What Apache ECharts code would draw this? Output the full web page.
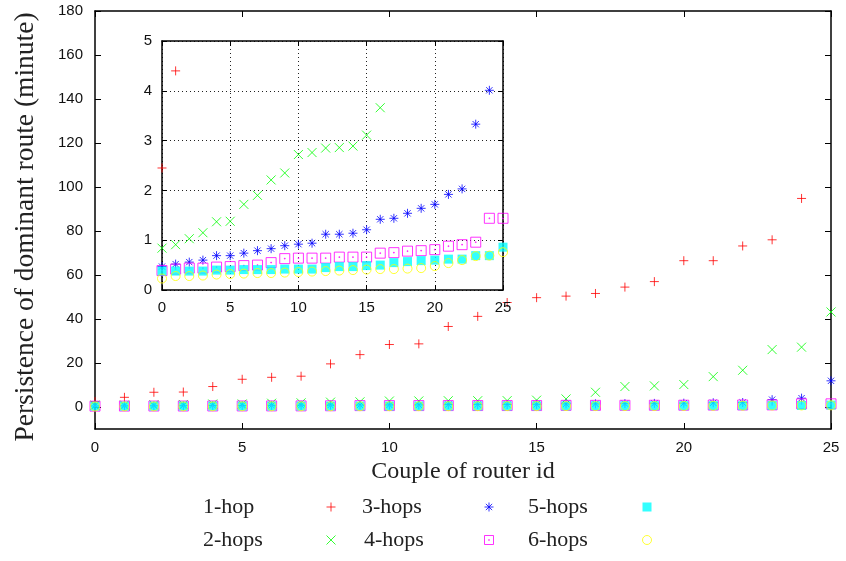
<!DOCTYPE html>
<html><head><meta charset="utf-8">
<script src="https://cdn.jsdelivr.net/npm/echarts@6/dist/echarts.min.js"></script>
<style>html,body{margin:0;padding:0;background:#fff}#c{width:846px;height:561px}</style>
</head><body><div id="c"></div>
<script>
// ---- data ----
const couples = [0,1,2,3,4,5,6,7,8,9,10,11,12,13,14,15,16,17,18,19,20,21,22,23,24,25];
const hop1 = [2.45,4.4,6.7,6.8,9.3,12.6,13.5,14.0,19.6,23.8,28.4,28.7,36.6,41.2,47.5,49.7,50.4,51.6,54.5,57.0,66.5,66.5,73.2,76.0,94.8];
const hop2 = [0.84,0.91,1.03,1.15,1.37,1.38,1.72,1.90,2.21,2.35,2.72,2.76,2.85,2.86,2.89,3.11,3.66,6.7,9.3,9.6,10.2,13.8,16.7,26.1,27.2,43.2];
const hop3 = [0.47,0.52,0.56,0.60,0.69,0.69,0.74,0.79,0.83,0.89,0.92,0.94,1.12,1.12,1.14,1.21,1.42,1.44,1.54,1.64,1.72,1.92,2.03,3.33,4.01,11.9];
const hop4 = [0.39,0.42,0.44,0.44,0.46,0.47,0.49,0.50,0.55,0.63,0.64,0.64,0.64,0.66,0.66,0.66,0.74,0.75,0.78,0.79,0.81,0.88,0.91,0.96,1.44,1.44];
const hop5 = [0.38,0.38,0.38,0.38,0.40,0.40,0.41,0.41,0.41,0.42,0.42,0.42,0.45,0.47,0.47,0.49,0.50,0.55,0.57,0.59,0.60,0.62,0.62,0.69,0.69,0.86];
const hop6 = [0.23,0.28,0.28,0.29,0.31,0.32,0.33,0.34,0.34,0.35,0.36,0.37,0.38,0.39,0.40,0.41,0.42,0.42,0.43,0.44,0.48,0.54,0.60,0.68,0.69,0.76];
const seriesNames = ['1-hop','2-hops','3-hops','4-hops','5-hops','6-hops'];
const mainXTicks = [0,5,10,15,20,25];
const mainYTicks = [0,20,40,60,80,100,120,140,160,180];
const insetXTicks = [0,5,10,15,20,25];
const insetYTicks = [0,1,2,3,4,5];
const xTitle = 'Couple of router id';
const yTitle = 'Persistence of dominant route (minute)';

// ---- styling ----
const SERIF = "'Liberation Serif','DejaVu Serif',serif";
const SANS = "'Liberation Sans',Arial,sans-serif";
const allData = [hop1,hop2,hop3,hop4,hop5,hop6];
const colors = ['#ff0000','#00ff00','#0000ff','#ff00ff','#00ffff','#ffff00'];
const symbols = [
  'path://M0,5L10,5M5,0L5,10',
  'path://M0,0L10,10M10,0L0,10',
  'path://M0,5L10,5M5,0L5,10M1.5,1.5L8.5,8.5M8.5,1.5L1.5,8.5',
  'path://M0,0L10,0L10,10L0,10ZM4.6,4.6L5.4,4.6L5.4,5.4L4.6,5.4Z',
  'rect',
  'circle'
];
const sizes = [9,9,9,10,9,9];
function itemStyleFor(i){
  if (i === 4) return {color: colors[i], borderWidth: 0};
  return {color: 'rgba(0,0,0,0)', borderColor: colors[i], borderWidth: 1};
}
function pts(arr){ return arr.map((v,i)=>[couples[i], v]); }

const series = [];
[0,2].forEach((ax)=>{
  allData.forEach((arr,i)=>{
    series.push({
      type:'scatter', name: seriesNames[i],
      xAxisIndex: ax, yAxisIndex: ax,
      data: pts(arr), symbol: symbols[i], symbolSize: sizes[i],
      itemStyle: itemStyleFor(i), clip: true, silent: true,
      z: ax === 0 ? 2 : 12
    });
  });
});

function legendItem(name, textLeft, iconCenter, centerY){
  const iw = 9;
  const W = iconCenter - iw/2 - 5 - textLeft;
  return {
    data:[name], left: textLeft, top: centerY - 12, align:'right', padding:0,
    itemWidth: iw, itemHeight: iw, selectedMode:false,
    formatter: n => '{t|' + n + '}',
    itemStyle: {borderWidth: 1},
    textStyle: {rich: {t: {width: W, align:'left', fontFamily: SERIF, fontSize: 22, lineHeight: 24, color:'#222'}}}
  };
}

const tickLbl = {fontFamily: SANS, fontSize: 15, color:'#111'};
const axLine = {show:true, onZero:false, lineStyle:{color:'#000', width:1.5}};

const option = {
  animation:false,
  backgroundColor:'#fff',
  grid:[
    {left:95, top:11, width:736, height:418, show:false},
    {left:162, top:41, width:341, height:249, show:true, backgroundColor:'#fff', borderWidth:0, z:10}
  ],
  legend:[
    legendItem('1-hop', 203, 331, 508),
    legendItem('3-hops', 362, 489, 508),
    legendItem('5-hops', 528, 647, 508),
    legendItem('2-hops', 203, 331, 541),
    legendItem('4-hops', 364, 489, 541),
    legendItem('6-hops', 528, 647, 541)
  ],
  xAxis:[
    {type:'value', gridIndex:0, min:0, max:25, interval:5, position:'bottom',
     axisLine:axLine, splitLine:{show:false},
     axisTick:{show:true, inside:true, length:6, customValues: mainXTicks, lineStyle:{color:'#000'}},
     axisLabel:{show:true, margin:11, customValues: mainXTicks, ...tickLbl},
     name:xTitle, nameLocation:'middle', nameGap:28,
     nameTextStyle:{fontFamily:SERIF, fontSize:24, color:'#222'}},
    {type:'value', gridIndex:0, min:0, max:25, interval:5, position:'top',
     axisLine:axLine, splitLine:{show:false},
     axisTick:{show:true, inside:true, length:6, customValues: mainXTicks, lineStyle:{color:'#000'}},
     axisLabel:{show:false}},
    {type:'value', gridIndex:1, min:0, max:25, interval:5, position:'bottom', z:11,
     axisLine:axLine,
     splitLine:{show:true, lineStyle:{color:'#222', width:1, type:[1,3]}},
     axisTick:{show:true, inside:true, length:5, customValues: insetXTicks, lineStyle:{color:'#000'}},
     axisLabel:{show:true, margin:10, customValues: insetXTicks, ...tickLbl}},
    {type:'value', gridIndex:1, min:0, max:25, interval:5, position:'top', z:11,
     axisLine:axLine, splitLine:{show:false},
     axisTick:{show:true, inside:true, length:5, customValues: insetXTicks, lineStyle:{color:'#000'}},
     axisLabel:{show:false}}
  ],
  yAxis:[
    {type:'value', gridIndex:0, min:-10, max:180, position:'left',
     axisLine:axLine, splitLine:{show:false},
     axisTick:{show:true, inside:true, length:6, customValues: mainYTicks, lineStyle:{color:'#000'}},
     axisLabel:{show:true, margin:12, customValues: mainYTicks, ...tickLbl},
     name:yTitle, nameLocation:'middle', nameGap:55, nameRotate:90,
     nameTextStyle:{fontFamily:SERIF, fontSize:27.5, color:'#222', padding:[0,14,0,0]}},
    {type:'value', gridIndex:0, min:-10, max:180, position:'right',
     axisLine:axLine, splitLine:{show:false},
     axisTick:{show:true, inside:true, length:6, customValues: mainYTicks, lineStyle:{color:'#000'}},
     axisLabel:{show:false}},
    {type:'value', gridIndex:1, min:0, max:5, interval:1, position:'left', z:11,
     axisLine:axLine,
     splitLine:{show:true, lineStyle:{color:'#222', width:1, type:[1,3]}},
     axisTick:{show:true, inside:true, length:5, customValues: insetYTicks, lineStyle:{color:'#000'}},
     axisLabel:{show:true, margin:10, customValues: insetYTicks, ...tickLbl}},
    {type:'value', gridIndex:1, min:0, max:5, interval:1, position:'right', z:11,
     axisLine:axLine, splitLine:{show:false},
     axisTick:{show:true, inside:true, length:5, customValues: insetYTicks, lineStyle:{color:'#000'}},
     axisLabel:{show:false}}
  ],
  series: series
};
const chart = echarts.init(document.getElementById('c'), null, {renderer:'canvas'});
chart.setOption(option);
</script>
</body></html>
